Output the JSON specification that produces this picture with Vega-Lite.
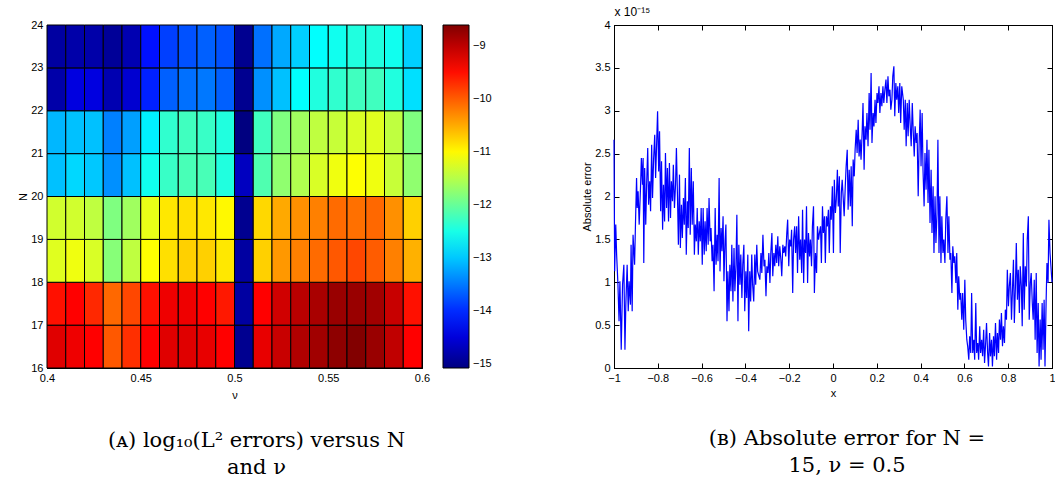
{
"$schema": "https://vega.github.io/schema/vega-lite/v6.json",
"background": "white",
"padding": {"left": 17, "top": 5, "right": 0, "bottom": 0},
"config": {
  "font": "Liberation Sans",
  "view": {"stroke": "black", "strokeWidth": 1},
  "axis": {"labelFont": "Liberation Sans", "titleFont": "Liberation Sans", "labelFontSize": 11, "titleFontSize": 11, "titleFontWeight": "normal", "labelColor": "black", "titleColor": "black", "domainColor": "black", "tickColor": "black", "grid": false, "tickSize": -5, "labelPadding": 9, "labelFlush": false, "labelOverlap": false}
},
"datasets": {
"grid": [
{"nu":0.4,"nu2":0.41,"N":16,"N2":17,"v":-9.22},{"nu":0.41,"nu2":0.42,"N":16,"N2":17,"v":-9.32},{"nu":0.42,"nu2":0.43,"N":16,"N2":17,"v":-9.42},{"nu":0.43,"nu2":0.44,"N":16,"N2":17,"v":-9.98},{"nu":0.44,"nu2":0.45,"N":16,"N2":17,"v":-9.72},{"nu":0.45,"nu2":0.46,"N":16,"N2":17,"v":-9.42},{"nu":0.46,"nu2":0.47,"N":16,"N2":17,"v":-9.22},{"nu":0.47,"nu2":0.48,"N":16,"N2":17,"v":-9.22},{"nu":0.48,"nu2":0.49,"N":16,"N2":17,"v":-9.27},{"nu":0.49,"nu2":0.5,"N":16,"N2":17,"v":-9.42},{"nu":0.5,"nu2":0.51,"N":16,"N2":17,"v":-14.98},{"nu":0.51,"nu2":0.52,"N":16,"N2":17,"v":-9.27},{"nu":0.52,"nu2":0.53,"N":16,"N2":17,"v":-9.07},{"nu":0.53,"nu2":0.54,"N":16,"N2":17,"v":-8.92},{"nu":0.54,"nu2":0.55,"N":16,"N2":17,"v":-8.82},{"nu":0.55,"nu2":0.56,"N":16,"N2":17,"v":-8.70},{"nu":0.56,"nu2":0.57,"N":16,"N2":17,"v":-8.62},{"nu":0.57,"nu2":0.58,"N":16,"N2":17,"v":-8.77},{"nu":0.58,"nu2":0.59,"N":16,"N2":17,"v":-9.02},{"nu":0.59,"nu2":0.6,"N":16,"N2":17,"v":-9.42},
{"nu":0.4,"nu2":0.41,"N":17,"N2":18,"v":-9.52},{"nu":0.41,"nu2":0.42,"N":17,"N2":18,"v":-9.42},{"nu":0.42,"nu2":0.43,"N":17,"N2":18,"v":-9.67},{"nu":0.43,"nu2":0.44,"N":17,"N2":18,"v":-10.08},{"nu":0.44,"nu2":0.45,"N":17,"N2":18,"v":-9.87},{"nu":0.45,"nu2":0.46,"N":17,"N2":18,"v":-9.52},{"nu":0.46,"nu2":0.47,"N":17,"N2":18,"v":-9.32},{"nu":0.47,"nu2":0.48,"N":17,"N2":18,"v":-9.32},{"nu":0.48,"nu2":0.49,"N":17,"N2":18,"v":-9.42},{"nu":0.49,"nu2":0.5,"N":17,"N2":18,"v":-9.57},{"nu":0.5,"nu2":0.51,"N":17,"N2":18,"v":-14.87},{"nu":0.51,"nu2":0.52,"N":17,"N2":18,"v":-9.42},{"nu":0.52,"nu2":0.53,"N":17,"N2":18,"v":-9.12},{"nu":0.53,"nu2":0.54,"N":17,"N2":18,"v":-8.97},{"nu":0.54,"nu2":0.55,"N":17,"N2":18,"v":-8.87},{"nu":0.55,"nu2":0.56,"N":17,"N2":18,"v":-8.77},{"nu":0.56,"nu2":0.57,"N":17,"N2":18,"v":-8.77},{"nu":0.57,"nu2":0.58,"N":17,"N2":18,"v":-8.82},{"nu":0.58,"nu2":0.59,"N":17,"N2":18,"v":-9.07},{"nu":0.59,"nu2":0.6,"N":17,"N2":18,"v":-9.52},
{"nu":0.4,"nu2":0.41,"N":18,"N2":19,"v":-11.23},{"nu":0.41,"nu2":0.42,"N":18,"N2":19,"v":-11.13},{"nu":0.42,"nu2":0.43,"N":18,"N2":19,"v":-11.28},{"nu":0.43,"nu2":0.44,"N":18,"N2":19,"v":-11.80},{"nu":0.44,"nu2":0.45,"N":18,"N2":19,"v":-11.44},{"nu":0.45,"nu2":0.46,"N":18,"N2":19,"v":-11.04},{"nu":0.46,"nu2":0.47,"N":18,"N2":19,"v":-10.84},{"nu":0.47,"nu2":0.48,"N":18,"N2":19,"v":-10.74},{"nu":0.48,"nu2":0.49,"N":18,"N2":19,"v":-10.74},{"nu":0.49,"nu2":0.5,"N":18,"N2":19,"v":-10.89},{"nu":0.5,"nu2":0.51,"N":18,"N2":19,"v":-14.87},{"nu":0.51,"nu2":0.52,"N":18,"N2":19,"v":-10.74},{"nu":0.52,"nu2":0.53,"N":18,"N2":19,"v":-10.38},{"nu":0.53,"nu2":0.54,"N":18,"N2":19,"v":-10.23},{"nu":0.54,"nu2":0.55,"N":18,"N2":19,"v":-10.10},{"nu":0.55,"nu2":0.56,"N":18,"N2":19,"v":-9.98},{"nu":0.56,"nu2":0.57,"N":18,"N2":19,"v":-9.87},{"nu":0.57,"nu2":0.58,"N":18,"N2":19,"v":-10.00},{"nu":0.58,"nu2":0.59,"N":18,"N2":19,"v":-10.23},{"nu":0.59,"nu2":0.6,"N":18,"N2":19,"v":-10.54},
{"nu":0.4,"nu2":0.41,"N":19,"N2":20,"v":-11.33},{"nu":0.41,"nu2":0.42,"N":19,"N2":20,"v":-11.33},{"nu":0.42,"nu2":0.43,"N":19,"N2":20,"v":-11.44},{"nu":0.43,"nu2":0.44,"N":19,"N2":20,"v":-11.85},{"nu":0.44,"nu2":0.45,"N":19,"N2":20,"v":-11.64},{"nu":0.45,"nu2":0.46,"N":19,"N2":20,"v":-11.18},{"nu":0.46,"nu2":0.47,"N":19,"N2":20,"v":-10.89},{"nu":0.47,"nu2":0.48,"N":19,"N2":20,"v":-10.84},{"nu":0.48,"nu2":0.49,"N":19,"N2":20,"v":-10.89},{"nu":0.49,"nu2":0.5,"N":19,"N2":20,"v":-11.00},{"nu":0.5,"nu2":0.51,"N":19,"N2":20,"v":-14.98},{"nu":0.51,"nu2":0.52,"N":19,"N2":20,"v":-10.79},{"nu":0.52,"nu2":0.53,"N":19,"N2":20,"v":-10.49},{"nu":0.53,"nu2":0.54,"N":19,"N2":20,"v":-10.33},{"nu":0.54,"nu2":0.55,"N":19,"N2":20,"v":-10.23},{"nu":0.55,"nu2":0.56,"N":19,"N2":20,"v":-10.10},{"nu":0.56,"nu2":0.57,"N":19,"N2":20,"v":-10.13},{"nu":0.57,"nu2":0.58,"N":19,"N2":20,"v":-10.08},{"nu":0.58,"nu2":0.59,"N":19,"N2":20,"v":-10.33},{"nu":0.59,"nu2":0.6,"N":19,"N2":20,"v":-10.74},
{"nu":0.4,"nu2":0.41,"N":20,"N2":21,"v":-13.05},{"nu":0.41,"nu2":0.42,"N":20,"N2":21,"v":-12.90},{"nu":0.42,"nu2":0.43,"N":20,"N2":21,"v":-13.00},{"nu":0.43,"nu2":0.44,"N":20,"N2":21,"v":-13.36},{"nu":0.44,"nu2":0.45,"N":20,"N2":21,"v":-13.05},{"nu":0.45,"nu2":0.46,"N":20,"N2":21,"v":-12.55},{"nu":0.46,"nu2":0.47,"N":20,"N2":21,"v":-12.30},{"nu":0.47,"nu2":0.48,"N":20,"N2":21,"v":-12.20},{"nu":0.48,"nu2":0.49,"N":20,"N2":21,"v":-12.20},{"nu":0.49,"nu2":0.5,"N":20,"N2":21,"v":-12.45},{"nu":0.5,"nu2":0.51,"N":20,"N2":21,"v":-14.67},{"nu":0.51,"nu2":0.52,"N":20,"N2":21,"v":-12.15},{"nu":0.52,"nu2":0.53,"N":20,"N2":21,"v":-11.74},{"nu":0.53,"nu2":0.54,"N":20,"N2":21,"v":-11.54},{"nu":0.54,"nu2":0.55,"N":20,"N2":21,"v":-11.28},{"nu":0.55,"nu2":0.56,"N":20,"N2":21,"v":-11.13},{"nu":0.56,"nu2":0.57,"N":20,"N2":21,"v":-11.04},{"nu":0.57,"nu2":0.58,"N":20,"N2":21,"v":-11.13},{"nu":0.58,"nu2":0.59,"N":20,"N2":21,"v":-11.39},{"nu":0.59,"nu2":0.6,"N":20,"N2":21,"v":-11.74},
{"nu":0.4,"nu2":0.41,"N":21,"N2":22,"v":-13.11},{"nu":0.41,"nu2":0.42,"N":21,"N2":22,"v":-13.05},{"nu":0.42,"nu2":0.43,"N":21,"N2":22,"v":-13.05},{"nu":0.43,"nu2":0.44,"N":21,"N2":22,"v":-13.46},{"nu":0.44,"nu2":0.45,"N":21,"N2":22,"v":-13.26},{"nu":0.45,"nu2":0.46,"N":21,"N2":22,"v":-12.75},{"nu":0.46,"nu2":0.47,"N":21,"N2":22,"v":-12.35},{"nu":0.47,"nu2":0.48,"N":21,"N2":22,"v":-12.25},{"nu":0.48,"nu2":0.49,"N":21,"N2":22,"v":-12.30},{"nu":0.49,"nu2":0.5,"N":21,"N2":22,"v":-12.45},{"nu":0.5,"nu2":0.51,"N":21,"N2":22,"v":-15.08},{"nu":0.51,"nu2":0.52,"N":21,"N2":22,"v":-12.25},{"nu":0.52,"nu2":0.53,"N":21,"N2":22,"v":-11.85},{"nu":0.53,"nu2":0.54,"N":21,"N2":22,"v":-11.64},{"nu":0.54,"nu2":0.55,"N":21,"N2":22,"v":-11.44},{"nu":0.55,"nu2":0.56,"N":21,"N2":22,"v":-11.39},{"nu":0.56,"nu2":0.57,"N":21,"N2":22,"v":-11.28},{"nu":0.57,"nu2":0.58,"N":21,"N2":22,"v":-11.23},{"nu":0.58,"nu2":0.59,"N":21,"N2":22,"v":-11.44},{"nu":0.59,"nu2":0.6,"N":21,"N2":22,"v":-11.85},
{"nu":0.4,"nu2":0.41,"N":22,"N2":23,"v":-14.82},{"nu":0.41,"nu2":0.42,"N":22,"N2":23,"v":-14.47},{"nu":0.42,"nu2":0.43,"N":22,"N2":23,"v":-14.47},{"nu":0.43,"nu2":0.44,"N":22,"N2":23,"v":-14.77},{"nu":0.44,"nu2":0.45,"N":22,"N2":23,"v":-14.57},{"nu":0.45,"nu2":0.46,"N":22,"N2":23,"v":-14.07},{"nu":0.46,"nu2":0.47,"N":22,"N2":23,"v":-13.66},{"nu":0.47,"nu2":0.48,"N":22,"N2":23,"v":-13.56},{"nu":0.48,"nu2":0.49,"N":22,"N2":23,"v":-13.51},{"nu":0.49,"nu2":0.5,"N":22,"N2":23,"v":-13.66},{"nu":0.5,"nu2":0.51,"N":22,"N2":23,"v":-14.98},{"nu":0.51,"nu2":0.52,"N":22,"N2":23,"v":-13.36},{"nu":0.52,"nu2":0.53,"N":22,"N2":23,"v":-13.05},{"nu":0.53,"nu2":0.54,"N":22,"N2":23,"v":-12.65},{"nu":0.54,"nu2":0.55,"N":22,"N2":23,"v":-12.45},{"nu":0.55,"nu2":0.56,"N":22,"N2":23,"v":-12.35},{"nu":0.56,"nu2":0.57,"N":22,"N2":23,"v":-12.25},{"nu":0.57,"nu2":0.58,"N":22,"N2":23,"v":-12.25},{"nu":0.58,"nu2":0.59,"N":22,"N2":23,"v":-12.45},{"nu":0.59,"nu2":0.6,"N":22,"N2":23,"v":-12.85},
{"nu":0.4,"nu2":0.41,"N":23,"N2":24,"v":-14.87},{"nu":0.41,"nu2":0.42,"N":23,"N2":24,"v":-14.82},{"nu":0.42,"nu2":0.43,"N":23,"N2":24,"v":-14.82},{"nu":0.43,"nu2":0.44,"N":23,"N2":24,"v":-14.93},{"nu":0.44,"nu2":0.45,"N":23,"N2":24,"v":-14.77},{"nu":0.45,"nu2":0.46,"N":23,"N2":24,"v":-14.17},{"nu":0.46,"nu2":0.47,"N":23,"N2":24,"v":-13.87},{"nu":0.47,"nu2":0.48,"N":23,"N2":24,"v":-13.76},{"nu":0.48,"nu2":0.49,"N":23,"N2":24,"v":-13.66},{"nu":0.49,"nu2":0.5,"N":23,"N2":24,"v":-13.76},{"nu":0.5,"nu2":0.51,"N":23,"N2":24,"v":-14.98},{"nu":0.51,"nu2":0.52,"N":23,"N2":24,"v":-13.56},{"nu":0.52,"nu2":0.53,"N":23,"N2":24,"v":-13.20},{"nu":0.53,"nu2":0.54,"N":23,"N2":24,"v":-12.95},{"nu":0.54,"nu2":0.55,"N":23,"N2":24,"v":-12.65},{"nu":0.55,"nu2":0.56,"N":23,"N2":24,"v":-12.55},{"nu":0.56,"nu2":0.57,"N":23,"N2":24,"v":-12.45},{"nu":0.57,"nu2":0.58,"N":23,"N2":24,"v":-12.45},{"nu":0.58,"nu2":0.59,"N":23,"N2":24,"v":-12.55},{"nu":0.59,"nu2":0.6,"N":23,"N2":24,"v":-12.95}
],
"err": [
{"x":-1.000,"e":2.663e-15},{"x":-0.997,"e":1.127e-15},{"x":-0.992,"e":1.672e-15},{"x":-0.988,"e":1.322e-15},{"x":-0.982,"e":0.972e-15},{"x":-0.977,"e":0.544e-15},{"x":-0.973,"e":1.011e-15},{"x":-0.967,"e":0.214e-15},{"x":-0.961,"e":0.972e-15},{"x":-0.955,"e":1.205e-15},{"x":-0.950,"e":0.214e-15},{"x":-0.946,"e":0.739e-15},{"x":-0.940,"e":1.205e-15},{"x":-0.935,"e":0.661e-15},{"x":-0.931,"e":1.011e-15},{"x":-0.925,"e":0.739e-15},{"x":-0.922,"e":1.438e-15},{"x":-0.917,"e":0.661e-15},{"x":-0.913,"e":1.555e-15},{"x":-0.906,"e":1.205e-15},{"x":-0.902,"e":1.672e-15},{"x":-0.897,"e":2.216e-15},{"x":-0.894,"e":1.866e-15},{"x":-0.890,"e":2.060e-15},{"x":-0.885,"e":1.672e-15},{"x":-0.879,"e":2.099e-15},{"x":-0.875,"e":2.449e-15},{"x":-0.870,"e":2.138e-15},{"x":-0.867,"e":2.449e-15},{"x":-0.864,"e":1.224e-15},{"x":-0.860,"e":2.332e-15},{"x":-0.855,"e":1.672e-15},{"x":-0.851,"e":2.138e-15},{"x":-0.846,"e":2.566e-15},{"x":-0.842,"e":1.905e-15},{"x":-0.837,"e":2.177e-15},{"x":-0.833,"e":1.827e-15},{"x":-0.828,"e":2.604e-15},{"x":-0.824,"e":1.982e-15},{"x":-0.819,"e":2.449e-15},{"x":-0.814,"e":2.721e-15},{"x":-0.810,"e":2.216e-15},{"x":-0.805,"e":2.643e-15},{"x":-0.801,"e":2.993e-15},{"x":-0.796,"e":2.293e-15},{"x":-0.792,"e":2.760e-15},{"x":-0.787,"e":1.827e-15},{"x":-0.783,"e":2.410e-15},{"x":-0.778,"e":1.613e-15},{"x":-0.774,"e":2.138e-15},{"x":-0.769,"e":1.710e-15},{"x":-0.765,"e":2.507e-15},{"x":-0.760,"e":1.866e-15},{"x":-0.756,"e":2.332e-15},{"x":-0.751,"e":1.710e-15},{"x":-0.747,"e":2.391e-15},{"x":-0.742,"e":1.749e-15},{"x":-0.738,"e":2.177e-15},{"x":-0.733,"e":1.944e-15},{"x":-0.729,"e":2.371e-15},{"x":-0.724,"e":1.866e-15},{"x":-0.719,"e":2.138e-15},{"x":-0.715,"e":2.566e-15},{"x":-0.710,"e":1.982e-15},{"x":-0.706,"e":1.438e-15},{"x":-0.701,"e":2.255e-15},{"x":-0.697,"e":1.399e-15},{"x":-0.692,"e":1.905e-15},{"x":-0.688,"e":1.516e-15},{"x":-0.683,"e":1.982e-15},{"x":-0.679,"e":1.672e-15},{"x":-0.674,"e":2.216e-15},{"x":-0.670,"e":1.322e-15},{"x":-0.665,"e":1.944e-15},{"x":-0.661,"e":1.633e-15},{"x":-0.656,"e":2.566e-15},{"x":-0.652,"e":1.555e-15},{"x":-0.647,"e":2.332e-15},{"x":-0.643,"e":1.672e-15},{"x":-0.638,"e":2.177e-15},{"x":-0.633,"e":1.322e-15},{"x":-0.629,"e":1.672e-15},{"x":-0.624,"e":1.477e-15},{"x":-0.620,"e":1.866e-15},{"x":-0.615,"e":1.322e-15},{"x":-0.611,"e":1.710e-15},{"x":-0.606,"e":1.477e-15},{"x":-0.602,"e":1.866e-15},{"x":-0.597,"e":1.205e-15},{"x":-0.593,"e":1.866e-15},{"x":-0.588,"e":1.322e-15},{"x":-0.584,"e":1.710e-15},{"x":-0.579,"e":1.361e-15},{"x":-0.575,"e":1.866e-15},{"x":-0.570,"e":1.438e-15},{"x":-0.566,"e":1.982e-15},{"x":-0.561,"e":1.477e-15},{"x":-0.557,"e":1.633e-15},{"x":-0.552,"e":1.244e-15},{"x":-0.548,"e":1.438e-15},{"x":-0.543,"e":0.894e-15},{"x":-0.538,"e":1.866e-15},{"x":-0.534,"e":1.205e-15},{"x":-0.529,"e":1.555e-15},{"x":-0.525,"e":1.244e-15},{"x":-0.520,"e":2.216e-15},{"x":-0.516,"e":1.127e-15},{"x":-0.511,"e":1.633e-15},{"x":-0.507,"e":1.361e-15},{"x":-0.502,"e":1.769e-15},{"x":-0.498,"e":1.011e-15},{"x":-0.493,"e":1.477e-15},{"x":-0.489,"e":1.672e-15},{"x":-0.484,"e":0.544e-15},{"x":-0.480,"e":1.127e-15},{"x":-0.475,"e":0.661e-15},{"x":-0.471,"e":1.205e-15},{"x":-0.466,"e":0.894e-15},{"x":-0.462,"e":1.438e-15},{"x":-0.457,"e":0.777e-15},{"x":-0.452,"e":1.399e-15},{"x":-0.448,"e":0.894e-15},{"x":-0.443,"e":1.205e-15},{"x":-0.439,"e":1.788e-15},{"x":-0.434,"e":0.544e-15},{"x":-0.430,"e":1.438e-15},{"x":-0.425,"e":0.972e-15},{"x":-0.421,"e":1.322e-15},{"x":-0.416,"e":0.816e-15},{"x":-0.412,"e":1.205e-15},{"x":-0.407,"e":1.438e-15},{"x":-0.403,"e":0.661e-15},{"x":-0.398,"e":1.127e-15},{"x":-0.394,"e":0.816e-15},{"x":-0.389,"e":1.322e-15},{"x":-0.385,"e":0.428e-15},{"x":-0.380,"e":1.127e-15},{"x":-0.376,"e":0.777e-15},{"x":-0.371,"e":1.322e-15},{"x":-0.367,"e":0.972e-15},{"x":-0.362,"e":0.777e-15},{"x":-0.357,"e":1.322e-15},{"x":-0.353,"e":0.972e-15},{"x":-0.348,"e":1.438e-15},{"x":-0.344,"e":1.127e-15},
{"x":-0.334,"e":1.030e-15},{"x":-0.329,"e":1.341e-15},{"x":-0.325,"e":1.108e-15},{"x":-0.320,"e":1.555e-15},{"x":-0.315,"e":1.186e-15},{"x":-0.311,"e":1.263e-15},{"x":-0.306,"e":0.836e-15},{"x":-0.302,"e":1.186e-15},{"x":-0.297,"e":1.108e-15},{"x":-0.293,"e":1.341e-15},{"x":-0.288,"e":0.991e-15},{"x":-0.284,"e":1.341e-15},{"x":-0.279,"e":1.574e-15},{"x":-0.275,"e":1.069e-15},{"x":-0.270,"e":1.341e-15},{"x":-0.266,"e":1.186e-15},{"x":-0.261,"e":1.438e-15},{"x":-0.257,"e":1.224e-15},{"x":-0.252,"e":1.535e-15},{"x":-0.248,"e":1.186e-15},{"x":-0.243,"e":1.419e-15},{"x":-0.238,"e":1.263e-15},{"x":-0.234,"e":1.069e-15},{"x":-0.229,"e":1.438e-15},{"x":-0.225,"e":1.341e-15},{"x":-0.220,"e":1.419e-15},{"x":-0.216,"e":1.302e-15},{"x":-0.211,"e":1.574e-15},{"x":-0.207,"e":1.730e-15},{"x":-0.202,"e":1.186e-15},{"x":-0.198,"e":1.497e-15},{"x":-0.193,"e":1.419e-15},{"x":-0.189,"e":1.613e-15},{"x":-0.184,"e":0.875e-15},{"x":-0.180,"e":1.497e-15},{"x":-0.175,"e":1.652e-15},{"x":-0.171,"e":1.341e-15},{"x":-0.166,"e":1.652e-15},{"x":-0.162,"e":1.108e-15},{"x":-0.157,"e":1.769e-15},{"x":-0.152,"e":1.263e-15},{"x":-0.148,"e":1.497e-15},{"x":-0.143,"e":1.108e-15},{"x":-0.139,"e":1.846e-15},{"x":-0.134,"e":0.991e-15},{"x":-0.130,"e":1.497e-15},{"x":-0.125,"e":1.341e-15},{"x":-0.121,"e":1.885e-15},{"x":-0.116,"e":0.991e-15},{"x":-0.112,"e":1.574e-15},{"x":-0.107,"e":1.302e-15},{"x":-0.103,"e":1.497e-15},{"x":-0.098,"e":1.186e-15},{"x":-0.094,"e":1.652e-15},{"x":-0.089,"e":1.885e-15},{"x":-0.085,"e":0.875e-15},{"x":-0.080,"e":1.341e-15},{"x":-0.075,"e":1.108e-15},{"x":-0.071,"e":1.652e-15},{"x":-0.066,"e":1.497e-15},{"x":-0.062,"e":1.574e-15},{"x":-0.057,"e":1.652e-15},{"x":-0.053,"e":1.224e-15},{"x":-0.048,"e":1.885e-15},{"x":-0.044,"e":1.574e-15},{"x":-0.039,"e":1.769e-15},{"x":-0.035,"e":1.224e-15},{"x":-0.030,"e":1.769e-15},{"x":-0.026,"e":1.652e-15},{"x":-0.021,"e":1.846e-15},{"x":-0.017,"e":1.341e-15},{"x":-0.012,"e":1.885e-15},{"x":-0.008,"e":1.730e-15},{"x":-0.003,"e":2.119e-15},{"x":0.002,"e":1.341e-15},{"x":0.006,"e":2.196e-15},{"x":0.011,"e":1.808e-15},{"x":0.015,"e":1.963e-15},{"x":0.020,"e":2.313e-15},{"x":0.024,"e":1.885e-15},{"x":0.029,"e":2.235e-15},{"x":0.033,"e":1.341e-15},{"x":0.038,"e":2.041e-15},{"x":0.042,"e":2.196e-15},{"x":0.047,"e":1.963e-15},{"x":0.051,"e":1.769e-15},{"x":0.056,"e":2.119e-15},{"x":0.060,"e":2.352e-15},{"x":0.065,"e":2.546e-15},{"x":0.069,"e":1.846e-15},{"x":0.074,"e":2.313e-15},{"x":0.079,"e":1.885e-15},{"x":0.083,"e":2.352e-15},{"x":0.088,"e":1.652e-15},{"x":0.092,"e":2.430e-15},{"x":0.097,"e":2.235e-15},{"x":0.101,"e":2.546e-15},{"x":0.106,"e":2.779e-15},{"x":0.110,"e":2.507e-15},{"x":0.115,"e":2.896e-15},{"x":0.119,"e":2.468e-15},{"x":0.124,"e":2.663e-15},{"x":0.128,"e":2.430e-15},{"x":0.133,"e":2.741e-15},{"x":0.137,"e":3.090e-15},{"x":0.142,"e":2.313e-15},{"x":0.146,"e":2.818e-15},{"x":0.151,"e":2.663e-15},{"x":0.155,"e":2.974e-15},{"x":0.160,"e":2.585e-15},{"x":0.165,"e":3.207e-15},{"x":0.169,"e":2.779e-15},{"x":0.174,"e":3.440e-15},{"x":0.178,"e":2.624e-15},{"x":0.183,"e":2.974e-15},{"x":0.187,"e":2.818e-15},{"x":0.192,"e":3.129e-15},{"x":0.196,"e":2.857e-15},{"x":0.201,"e":3.207e-15},{"x":0.205,"e":3.090e-15},{"x":0.210,"e":3.285e-15},{"x":0.214,"e":2.974e-15},{"x":0.219,"e":3.207e-15},{"x":0.223,"e":3.052e-15},{"x":0.228,"e":3.285e-15},{"x":0.232,"e":3.090e-15},{"x":0.237,"e":3.246e-15},{"x":0.242,"e":3.363e-15},{"x":0.246,"e":3.090e-15},{"x":0.251,"e":3.401e-15},{"x":0.255,"e":3.168e-15},{"x":0.260,"e":3.246e-15},{"x":0.264,"e":3.013e-15},{"x":0.269,"e":3.129e-15},{"x":0.273,"e":3.401e-15},{"x":0.278,"e":3.518e-15},{"x":0.282,"e":2.935e-15},{"x":0.287,"e":3.324e-15},{"x":0.291,"e":3.129e-15},{"x":0.296,"e":3.285e-15},{"x":0.300,"e":2.974e-15},{"x":0.305,"e":3.324e-15},{"x":0.309,"e":2.857e-15},{"x":0.314,"e":3.285e-15},
{"x":0.321,"e":3.129e-15},{"x":0.325,"e":2.779e-15},{"x":0.330,"e":3.129e-15},{"x":0.334,"e":2.585e-15},{"x":0.339,"e":3.090e-15},{"x":0.343,"e":2.702e-15},{"x":0.348,"e":3.129e-15},{"x":0.352,"e":2.857e-15},{"x":0.357,"e":2.585e-15},{"x":0.362,"e":3.090e-15},{"x":0.366,"e":2.779e-15},{"x":0.371,"e":2.468e-15},{"x":0.375,"e":2.818e-15},{"x":0.380,"e":2.624e-15},{"x":0.384,"e":2.741e-15},{"x":0.389,"e":2.002e-15},{"x":0.393,"e":2.585e-15},{"x":0.398,"e":3.013e-15},{"x":0.402,"e":2.352e-15},{"x":0.407,"e":2.974e-15},{"x":0.411,"e":2.313e-15},{"x":0.416,"e":1.885e-15},{"x":0.420,"e":2.507e-15},{"x":0.425,"e":2.080e-15},{"x":0.429,"e":2.663e-15},{"x":0.434,"e":1.924e-15},{"x":0.438,"e":2.546e-15},{"x":0.443,"e":1.691e-15},{"x":0.448,"e":2.313e-15},{"x":0.452,"e":1.574e-15},{"x":0.457,"e":2.119e-15},{"x":0.461,"e":1.341e-15},{"x":0.466,"e":2.002e-15},{"x":0.470,"e":1.458e-15},{"x":0.475,"e":1.808e-15},{"x":0.479,"e":2.663e-15},{"x":0.484,"e":1.341e-15},{"x":0.488,"e":2.002e-15},{"x":0.493,"e":1.224e-15},{"x":0.497,"e":1.769e-15},{"x":0.502,"e":1.341e-15},{"x":0.506,"e":1.497e-15},{"x":0.511,"e":1.224e-15},{"x":0.515,"e":1.730e-15},{"x":0.520,"e":2.002e-15},{"x":0.525,"e":1.341e-15},{"x":0.529,"e":1.769e-15},{"x":0.534,"e":1.263e-15},{"x":0.538,"e":1.341e-15},{"x":0.543,"e":0.875e-15},{"x":0.547,"e":1.419e-15},{"x":0.552,"e":1.224e-15},{"x":0.556,"e":1.302e-15},{"x":0.561,"e":0.991e-15},{"x":0.565,"e":1.341e-15},{"x":0.570,"e":0.680e-15},{"x":0.574,"e":1.069e-15},{"x":0.579,"e":0.797e-15},{"x":0.583,"e":0.875e-15},{"x":0.588,"e":0.564e-15},{"x":0.592,"e":0.875e-15},{"x":0.597,"e":0.447e-15},{"x":0.602,"e":1.030e-15},{"x":0.606,"e":0.564e-15},{"x":0.611,"e":0.330e-15},{"x":0.615,"e":0.253e-15},{"x":0.620,"e":0.097e-15},{"x":0.624,"e":0.369e-15},{"x":0.629,"e":0.175e-15},{"x":0.633,"e":0.875e-15},{"x":0.638,"e":0.175e-15},{"x":0.643,"e":0.330e-15},{"x":0.647,"e":0.097e-15},{"x":0.652,"e":0.758e-15},{"x":0.656,"e":0.175e-15},{"x":0.661,"e":0.292e-15},{"x":0.665,"e":0.097e-15},{"x":0.670,"e":0.486e-15},{"x":0.674,"e":0.175e-15},{"x":0.679,"e":0.330e-15},{"x":0.683,"e":0.136e-15},{"x":0.688,"e":0.447e-15},{"x":0.692,"e":0.058e-15},{"x":0.697,"e":0.292e-15},{"x":0.701,"e":0.525e-15},{"x":0.706,"e":0.175e-15},{"x":0.710,"e":0.019e-15},{"x":0.715,"e":0.408e-15},{"x":0.719,"e":0.136e-15},{"x":0.724,"e":0.330e-15},{"x":0.728,"e":0.019e-15},{"x":0.733,"e":0.369e-15},{"x":0.737,"e":0.136e-15},{"x":0.742,"e":0.525e-15},{"x":0.747,"e":0.097e-15},{"x":0.751,"e":0.408e-15},{"x":0.756,"e":0.175e-15},{"x":0.760,"e":0.564e-15},{"x":0.765,"e":0.330e-15},{"x":0.769,"e":0.641e-15},{"x":0.774,"e":0.253e-15},{"x":0.778,"e":0.486e-15},{"x":0.783,"e":0.292e-15},{"x":0.787,"e":0.680e-15},{"x":0.792,"e":0.564e-15},{"x":0.796,"e":1.147e-15},{"x":0.801,"e":0.719e-15},{"x":0.805,"e":0.952e-15},{"x":0.810,"e":1.108e-15},{"x":0.815,"e":0.564e-15},{"x":0.819,"e":0.875e-15},{"x":0.824,"e":1.263e-15},{"x":0.828,"e":0.525e-15},{"x":0.833,"e":0.952e-15},{"x":0.837,"e":1.458e-15},{"x":0.842,"e":0.797e-15},{"x":0.846,"e":1.147e-15},{"x":0.851,"e":0.641e-15},{"x":0.855,"e":1.186e-15},{"x":0.860,"e":0.952e-15},{"x":0.864,"e":0.486e-15},{"x":0.869,"e":1.574e-15},{"x":0.873,"e":0.680e-15},{"x":0.878,"e":1.186e-15},{"x":0.883,"e":0.952e-15},{"x":0.887,"e":1.497e-15},{"x":0.892,"e":1.769e-15},{"x":0.896,"e":0.564e-15},{"x":0.901,"e":0.991e-15},{"x":0.905,"e":1.108e-15},{"x":0.910,"e":0.758e-15},{"x":0.914,"e":0.564e-15},{"x":0.919,"e":1.030e-15},{"x":0.923,"e":0.330e-15},{"x":0.928,"e":1.108e-15},{"x":0.932,"e":0.175e-15},{"x":0.937,"e":0.758e-15},{"x":0.941,"e":0.019e-15},{"x":0.946,"e":0.564e-15},{"x":0.950,"e":0.097e-15},{"x":0.955,"e":0.758e-15},{"x":0.959,"e":0.214e-15},{"x":0.964,"e":0.797e-15},{"x":0.968,"e":0.019e-15},{"x":0.973,"e":0.758e-15},{"x":0.977,"e":1.224e-15},{"x":0.982,"e":0.991e-15},{"x":0.986,"e":1.730e-15},{"x":0.991,"e":1.341e-15},{"x":1.000,"e":1.000e-15}
]
},
"bounds": "flush",
"spacing": 192,
"resolve": {"legend": {"color": "independent"}, "scale": {"color": "independent"}},
"hconcat": [
{
  "width": 375, "height": 343,
  "data": {"name": "grid"},
  "mark": {"type": "rect", "stroke": "black", "strokeWidth": 1},
  "encoding": {
    "x": {"field": "nu", "type": "quantitative", "scale": {"domain": [0.4, 0.6], "nice": false, "zero": false}, "axis": {"values": [0.4, 0.45, 0.5, 0.55, 0.6], "format": "~g", "title": "ν", "titlePadding": 6}},
    "x2": {"field": "nu2"},
    "y": {"field": "N", "type": "quantitative", "scale": {"domain": [16, 24], "nice": false, "zero": false}, "axis": {"values": [16, 17, 18, 19, 20, 21, 22, 23, 24], "format": "~g", "title": "N", "titlePadding": 2}},
    "y2": {"field": "N2"},
    "color": {"field": "v", "type": "quantitative",
      "scale": {"type": "linear", "domain": [-15.08, -14.271, -12.654, -11.036, -9.419, -8.61], "range": ["#000080", "#0000ff", "#00ffff", "#ffff00", "#ff0000", "#800000"], "interpolate": "rgb", "clamp": true, "nice": false, "zero": false},
      "legend": {"orient": "right", "offset": 21, "direction": "vertical", "gradientLength": 343, "gradientThickness": 26, "title": null, "values": [-15, -14, -13, -12, -11, -10, -9], "format": "~g", "labelFont": "Liberation Sans", "labelFontSize": 11, "labelColor": "black", "labelOffset": 4, "labelOverlap": false, "gradientStrokeColor": "black", "gradientStrokeWidth": 1, "padding": 0}
    }
  },
  "title": {"text": ["(ᴀ) log₁₀(L² errors) versus N", "and ν"], "orient": "bottom", "anchor": "middle", "frame": "group", "font": "DejaVu Serif", "fontSize": 21, "fontWeight": "normal", "lineHeight": 27, "offset": 30, "dx": 22, "color": "black"}
},
{
  "width": 438, "height": 343,
  "data": {"name": "err"},
  "layer": [
    {
      "mark": {"type": "line", "color": "#0000ff", "strokeWidth": 1.2},
      "encoding": {
        "x": {"field": "x", "type": "quantitative", "scale": {"domain": [-1, 1], "nice": false, "zero": false}, "axis": {"orient": "bottom", "values": [-1, -0.8, -0.6, -0.4, -0.2, 0, 0.2, 0.4, 0.6, 0.8, 1], "format": "~g", "title": "x", "titlePadding": 4}},
        "y": {"field": "e", "type": "quantitative", "scale": {"domain": [0, 4e-15], "nice": false, "zero": false}, "axis": {"orient": "left", "values": [0, 5e-16, 1e-15, 1.5e-15, 2e-15, 2.5e-15, 3e-15, 3.5e-15, 4e-15], "labelExpr": "format(datum.value*1e15, '~g')", "title": "Absolute error", "titlePadding": 2}}
      }
    },
    {
      "mark": {"type": "line", "strokeOpacity": 0},
      "encoding": {
        "x": {"field": "x", "type": "quantitative", "axis": {"orient": "top", "values": [-1, -0.8, -0.6, -0.4, -0.2, 0, 0.2, 0.4, 0.6, 0.8, 1], "labels": false, "title": "x 10⁻¹⁵", "titleAnchor": "start", "titleAlign": "left", "titleFontSize": 12, "titlePadding": 6}},
        "y": {"field": "e", "type": "quantitative", "axis": {"orient": "right", "values": [0, 5e-16, 1e-15, 1.5e-15, 2e-15, 2.5e-15, 3e-15, 3.5e-15, 4e-15], "labels": false, "title": null}}
      }
    }
  ],
  "resolve": {"axis": {"x": "independent", "y": "independent"}},
  "title": {"text": ["(ʙ) Absolute error for N =", "15, ν = 0.5"], "orient": "bottom", "anchor": "middle", "frame": "group", "font": "DejaVu Serif", "fontSize": 21, "fontWeight": "normal", "lineHeight": 27, "offset": 30, "dx": 14, "color": "black"}
}
]
}
